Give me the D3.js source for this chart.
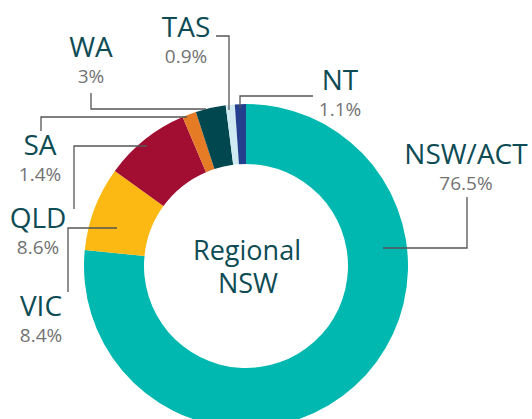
<!DOCTYPE html>
<html>
<head>
<meta charset="utf-8">
<script src="https://cdn.jsdelivr.net/npm/d3@7"></script>
<style>
  body { margin: 0; background: #fff; }
  svg { display: block; font-family: "Open Sans", sans-serif; }
</style>
</head>
<body>
<div id="chart"></div>
<script>
// Data (clockwise from 12 o'clock)
const states = ["NSW/ACT", "VIC", "QLD", "SA", "WA", "TAS", "NT"];
const shares = [76.5, 8.4, 8.6, 1.4, 3, 0.9, 1.1];
const shareLabels = ["76.5%", "8.4%", "8.6%", "1.4%", "3%", "0.9%", "1.1%"];
const colors = ["#00b8b0", "#fdb913", "#a20d32", "#e57b24", "#00474f", "#cfeaf3", "#253f8f"];

// Label layout: name position and leader line
const labelLayout = {
  "NSW/ACT": {x: 466, y: 164, line: [[467, 197], [467, 248], [383, 248]]},
  "VIC":     {x: 41,  y: 316, line: [[68, 292], [68, 228], [117, 228]]},
  "QLD":     {x: 38,  y: 228, line: [[74, 209], [74, 146], [147, 146]]},
  "SA":      {x: 40,  y: 155, line: [[41, 131], [41, 117], [187, 117]]},
  "WA":      {x: 91,  y: 57,  line: [[91, 93], [91, 109], [206, 109]]},
  "TAS":     {x: 186, y: 37,  line: [[216, 36], [229, 36], [229, 110]]},
  "NT":      {x: 340, y: 90,  line: [[313, 96], [240, 96], [240, 108]]}
};

const width = 532, height = 419;
const cx = 246, cy = 266, outerR = 162, innerR = 102;

const svg = d3.select("#chart")
  .append("svg")
    .attr("width", width)
    .attr("height", height);

const data = states.map((s, i) => ({state: s, value: shares[i], label: shareLabels[i], color: colors[i]}));

const pie = d3.pie()
  .sort(null)
  .value(d => d.value);

const arc = d3.arc()
  .innerRadius(innerR)
  .outerRadius(outerR);

const g = svg.append("g")
  .attr("transform", `translate(${cx},${cy})`);

g.selectAll("path")
  .data(pie(data))
  .enter().append("path")
    .attr("d", arc)
    .attr("fill", d => d.data.color);

// Leader lines
svg.append("g")
  .selectAll("polyline")
  .data(data)
  .enter().append("polyline")
    .attr("points", d => labelLayout[d.state].line.map(p => p.join(",")).join(" "))
    .attr("fill", "none")
    .attr("stroke", "#555")
    .attr("stroke-width", 1.3);

// Labels
const labels = svg.append("g")
  .selectAll("g")
  .data(data)
  .enter().append("g");

labels.append("text")
  .attr("x", d => labelLayout[d.state].x)
  .attr("y", d => labelLayout[d.state].y)
  .attr("text-anchor", "middle")
  .style("font-size", "28px")
  .style("fill", "#0e4c55")
  .text(d => d.state);

labels.append("text")
  .attr("x", d => labelLayout[d.state].x)
  .attr("y", d => labelLayout[d.state].y + 26)
  .attr("text-anchor", "middle")
  .style("font-size", "19px")
  .style("fill", "#737373")
  .text(d => d.label);

// Centre title
const centre = svg.append("text")
  .attr("text-anchor", "middle")
  .style("font-size", "27px")
  .style("fill", "#0e4c55");

centre.append("tspan").attr("x", 247).attr("y", 260).text("Regional");
centre.append("tspan").attr("x", 248).attr("y", 293).text("NSW");
</script>
</body>
</html>
